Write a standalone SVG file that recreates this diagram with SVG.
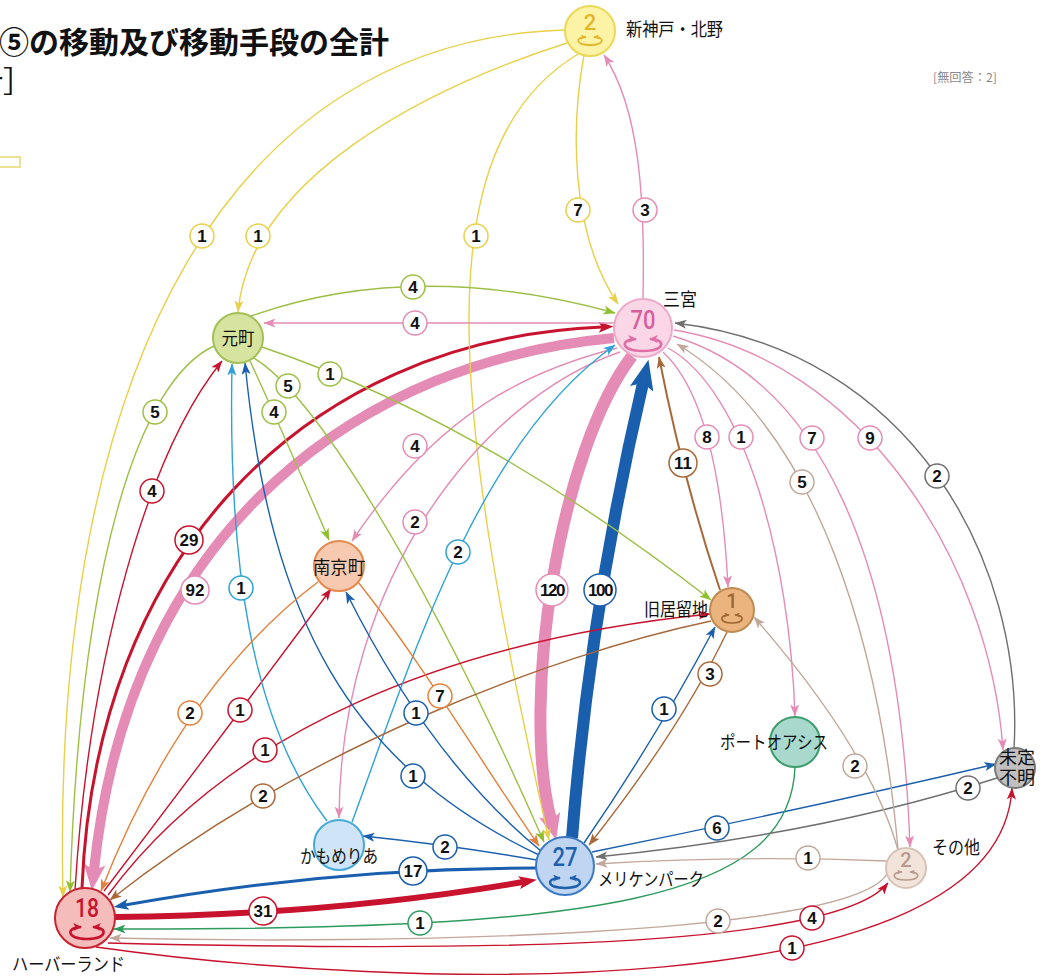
<svg xmlns="http://www.w3.org/2000/svg" width="1044" height="976" viewBox="0 0 1044 976">
<style>
.e{fill:none;stroke-width:1.4}
.lb circle{fill:#fff;stroke-width:1.5}
.lb text{font-family:"Liberation Sans",Arial,sans-serif;font-weight:700;font-size:17px;text-anchor:middle;dominant-baseline:central;fill:#111}
.nm{font-family:"Noto Sans CJK JP",sans-serif;font-size:18px;fill:#111}
.num{font-family:Roboto,"Liberation Sans",Arial,sans-serif;font-weight:500;text-anchor:middle;dominant-baseline:central}
.ic{fill:none}
.cY{stroke:#e8d048}.cP{stroke:#e58cb6}.cL{stroke:#9dbf45}.cO{stroke:#e4803a}.cBr{stroke:#a8693a}.cG{stroke:#2e9b5e}.cGy{stroke:#6f6f6f}.cLb{stroke:#2ea2d6}.cB{stroke:#1a5fae}.cT{stroke:#c2a89c}.cR{stroke:#c8132e}
</style>
<defs>
<marker id="mY" viewBox="0 0 12 9" refX="11.5" refY="4.5" markerWidth="12" markerHeight="9" markerUnits="userSpaceOnUse" orient="auto"><path d="M0,0L12,4.5L0,9L3,4.5z" fill="#e8d048"/></marker>
<marker id="mP" viewBox="0 0 12 9" refX="11.5" refY="4.5" markerWidth="12" markerHeight="9" markerUnits="userSpaceOnUse" orient="auto"><path d="M0,0L12,4.5L0,9L3,4.5z" fill="#e58cb6"/></marker>
<marker id="mL" viewBox="0 0 12 9" refX="11.5" refY="4.5" markerWidth="12" markerHeight="9" markerUnits="userSpaceOnUse" orient="auto"><path d="M0,0L12,4.5L0,9L3,4.5z" fill="#8fbf2f"/></marker>
<marker id="mO" viewBox="0 0 12 9" refX="11.5" refY="4.5" markerWidth="12" markerHeight="9" markerUnits="userSpaceOnUse" orient="auto"><path d="M0,0L12,4.5L0,9L3,4.5z" fill="#e4803a"/></marker>
<marker id="mBr" viewBox="0 0 12 9" refX="11.5" refY="4.5" markerWidth="12" markerHeight="9" markerUnits="userSpaceOnUse" orient="auto"><path d="M0,0L12,4.5L0,9L3,4.5z" fill="#a8693a"/></marker>
<marker id="mG" viewBox="0 0 12 9" refX="11.5" refY="4.5" markerWidth="12" markerHeight="9" markerUnits="userSpaceOnUse" orient="auto"><path d="M0,0L12,4.5L0,9L3,4.5z" fill="#2e9b5e"/></marker>
<marker id="mGy" viewBox="0 0 12 9" refX="11.5" refY="4.5" markerWidth="12" markerHeight="9" markerUnits="userSpaceOnUse" orient="auto"><path d="M0,0L12,4.5L0,9L3,4.5z" fill="#6f6f6f"/></marker>
<marker id="mLb" viewBox="0 0 12 9" refX="11.5" refY="4.5" markerWidth="12" markerHeight="9" markerUnits="userSpaceOnUse" orient="auto"><path d="M0,0L12,4.5L0,9L3,4.5z" fill="#2ea2d6"/></marker>
<marker id="mB" viewBox="0 0 12 9" refX="11.5" refY="4.5" markerWidth="12" markerHeight="9" markerUnits="userSpaceOnUse" orient="auto"><path d="M0,0L12,4.5L0,9L3,4.5z" fill="#1a5fae"/></marker>
<marker id="mT" viewBox="0 0 12 9" refX="11.5" refY="4.5" markerWidth="12" markerHeight="9" markerUnits="userSpaceOnUse" orient="auto"><path d="M0,0L12,4.5L0,9L3,4.5z" fill="#c2a89c"/></marker>
<marker id="mR" viewBox="0 0 12 9" refX="11.5" refY="4.5" markerWidth="12" markerHeight="9" markerUnits="userSpaceOnUse" orient="auto"><path d="M0,0L12,4.5L0,9L3,4.5z" fill="#c8132e"/></marker>
<marker id="mPB" viewBox="0 0 24 20" refX="5" refY="10" markerWidth="26" markerHeight="22" markerUnits="userSpaceOnUse" orient="auto"><path d="M0,0L24,10L0,20L5,10z" fill="#e58cb6"/></marker>
<marker id="mBB" viewBox="0 0 30 24" refX="6" refY="12" markerWidth="30" markerHeight="24" markerUnits="userSpaceOnUse" orient="auto"><path d="M0,0L30,12L0,24L6,12z" fill="#1a5fae"/></marker>
<marker id="mRM" viewBox="0 0 18 13" refX="4" refY="6.5" markerWidth="18" markerHeight="13" markerUnits="userSpaceOnUse" orient="auto"><path d="M0,0L18,6.5L0,13L4,6.5z" fill="#c8132e"/></marker>
<marker id="mBM" viewBox="0 0 15 11" refX="3.5" refY="5.5" markerWidth="15" markerHeight="11" markerUnits="userSpaceOnUse" orient="auto"><path d="M0,0L15,5.5L0,11L3.5,5.5z" fill="#1a5fae"/></marker>
<marker id="mRM2" viewBox="0 0 15 11" refX="3.5" refY="5.5" markerWidth="15" markerHeight="11" markerUnits="userSpaceOnUse" orient="auto"><path d="M0,0L15,5.5L0,11L3.5,5.5z" fill="#c8132e"/></marker>
<marker id="lP" viewBox="0 0 8 7" refX="7" refY="3.5" markerWidth="9" markerHeight="8" markerUnits="userSpaceOnUse" orient="auto-start-reverse"><path d="M0,0L8,3.5L0,7L2,3.5z" fill="#e06ea6"/></marker>
<marker id="lR" viewBox="0 0 8 7" refX="7" refY="3.5" markerWidth="9" markerHeight="8" markerUnits="userSpaceOnUse" orient="auto-start-reverse"><path d="M0,0L8,3.5L0,7L2,3.5z" fill="#c8132e"/></marker>
<marker id="lB" viewBox="0 0 8 7" refX="7" refY="3.5" markerWidth="8" markerHeight="7" markerUnits="userSpaceOnUse" orient="auto-start-reverse"><path d="M0,0L8,3.5L0,7L2,3.5z" fill="#1f5fae"/></marker>
<marker id="lY" viewBox="0 0 8 7" refX="7" refY="3.5" markerWidth="6" markerHeight="5" markerUnits="userSpaceOnUse" orient="auto-start-reverse"><path d="M0,0L8,3.5L0,7L2,3.5z" fill="#e3b52a"/></marker>
<marker id="lBr" viewBox="0 0 8 7" refX="7" refY="3.5" markerWidth="6" markerHeight="5" markerUnits="userSpaceOnUse" orient="auto-start-reverse"><path d="M0,0L8,3.5L0,7L2,3.5z" fill="#9c6535"/></marker>
<marker id="lT" viewBox="0 0 8 7" refX="7" refY="3.5" markerWidth="6" markerHeight="5" markerUnits="userSpaceOnUse" orient="auto-start-reverse"><path d="M0,0L8,3.5L0,7L2,3.5z" fill="#b89a8c"/></marker>
</defs>
<rect width="1044" height="976" fill="#fff"/>
<g id="title">
<text x="-1" y="53" font-family="Noto Sans CJK JP,sans-serif" font-size="30" font-weight="700" fill="#111">⑤の移動及び移動手段の全計</text>
<text x="-27" y="92" font-family="Noto Sans CJK JP,sans-serif" font-size="30" fill="#111">計］</text>
<rect x="-2" y="157" width="22" height="10" fill="#fff" stroke="#e8d870" stroke-width="1.5"/>
<text x="933" y="82" font-family="Noto Sans CJK JP,sans-serif" font-size="12" fill="#8a8a8a" textLength="64" lengthAdjust="spacingAndGlyphs">[無回答：2]</text>
</g>
<g id="connectors">
<path class="e cP" style="stroke-width:10" d="M614,338 C370,360 130,520 94,870" marker-end="url(#mPB)"/>
<path class="e cP" style="stroke-width:12" d="M632,356 C560,450 520,700 551,820" marker-end="url(#mPB)"/>
<path class="e cB" style="stroke-width:12" d="M572,838 Q590,610 643,383" marker-end="url(#mBB)"/>
<path class="e cR" style="stroke-width:6" d="M115,917 Q330,915 523,882" marker-end="url(#mRM)"/>
<path class="e cB" style="stroke-width:3" d="M536,868 Q330,868 125,905" marker-end="url(#mBM)"/>
<path class="e cR" style="stroke-width:3" d="M82,888 C95,560 300,340 602,327" marker-end="url(#mRM2)"/>
<path class="e cBr" style="stroke-width:2" d="M720,590 Q683,480 659,357" marker-end="url(#mBr)"/>
<path class="e cY" d="M564,30 C240,40 50,350 63,897" marker-end="url(#mY)"/>
<path class="e cY" d="M567,43 C420,90 250,180 238,312" marker-end="url(#mY)"/>
<path class="e cY" d="M578,54 C420,150 455,420 549,840" marker-end="url(#mY)"/>
<path class="e cY" d="M584,55 C572,120 568,230 618,304" marker-end="url(#mY)"/>
<path class="e cP" d="M643,298 C645,200 640,110 604,55" marker-end="url(#mP)"/>
<path class="e cP" d="M614,323 L264,323" marker-end="url(#mP)"/>
<path class="e cP" d="M617,348 C530,370 440,410 352,541" marker-end="url(#mP)"/>
<path class="e cP" d="M620,352 C480,400 340,580 339,818" marker-end="url(#mP)"/>
<path class="e cP" d="M663,352 Q719,404 728,587" marker-end="url(#mP)"/>
<path class="e cP" d="M668,348 C745,390 790,560 795,716" marker-end="url(#mP)"/>
<path class="e cP" d="M673,336 C820,380 900,560 910,847" marker-end="url(#mP)"/>
<path class="e cP" d="M674,330 C860,360 990,560 1003,750" marker-end="url(#mP)"/>
<path class="e cL" d="M251,316 Q415,258 615,313" marker-end="url(#mL)"/>
<path class="e cL" d="M214,346 C140,380 80,560 70,892" marker-end="url(#mL)"/>
<path class="e cL" d="M250,361 Q282,430 329,540" marker-end="url(#mL)"/>
<path class="e cL" d="M252,357 C310,390 420,560 544,842" marker-end="url(#mL)"/>
<path class="e cL" d="M262,347 Q480,420 711,600" marker-end="url(#mL)"/>
<path class="e cR" d="M75,890 C90,650 150,450 222,361" marker-end="url(#mR)"/>
<path class="e cR" d="M104,891 Q215,745 331,589" marker-end="url(#mR)"/>
<path class="e cR" d="M108,895 C230,730 450,640 710,614" marker-end="url(#mR)"/>
<path class="e cR" d="M108,943 C400,950 830,955 888,883" marker-end="url(#mR)"/>
<path class="e cR" d="M96,947 C400,990 1000,1010 1012,788" marker-end="url(#mR)"/>
<path class="e cLb" d="M327,821 C250,720 228,560 232,364" marker-end="url(#mLb)"/>
<path class="e cLb" d="M352,822 C415,650 480,440 615,345" marker-end="url(#mLb)"/>
<path class="e cB" d="M539,855 C350,765 270,620 245,363" marker-end="url(#mB)"/>
<path class="e cB" d="M541,851 Q430,760 346,592" marker-end="url(#mB)"/>
<path class="e cB" d="M537,860 Q450,845 363,836" marker-end="url(#mB)"/>
<path class="e cB" d="M584,843 Q655,740 715,627" marker-end="url(#mB)"/>
<path class="e cB" d="M592,852 Q800,810 996,764" marker-end="url(#mB)"/>
<path class="e cO" d="M318,582 C240,640 160,740 101,891" marker-end="url(#mO)"/>
<path class="e cO" d="M358,582 C420,660 480,760 539,846" marker-end="url(#mO)"/>
<path class="e cBr" d="M711,621 C550,655 300,750 110,900" marker-end="url(#mBr)"/>
<path class="e cBr" d="M727,632 Q680,730 589,845" marker-end="url(#mBr)"/>
<path class="e cG" d="M795,767 C790,900 600,930 114,929" marker-end="url(#mG)"/>
<path class="e cGy" d="M1014,749 C1025,560 910,350 675,323" marker-end="url(#mGy)"/>
<path class="e cGy" d="M997,778 Q820,835 596,857" marker-end="url(#mGy)"/>
<path class="e cT" d="M898,849 C880,650 820,430 677,344" marker-end="url(#mT)"/>
<path class="e cT" d="M887,861 Q740,855 596,864" marker-end="url(#mT)"/>
<path class="e cT" d="M898,850 Q870,750 754,617" marker-end="url(#mT)"/>
<path class="e cT" d="M887,874 C850,935 400,945 110,938" marker-end="url(#mT)"/>
</g>
<g id="edge-labels" class="lb">
<circle class="cY" cx="202" cy="236" r="12"/><text x="202" y="236">1</text>
<circle class="cY" cx="258" cy="236" r="12"/><text x="258" y="236">1</text>
<circle class="cY" cx="476" cy="236" r="12"/><text x="476" y="236">1</text>
<circle class="cY" cx="578" cy="210" r="12"/><text x="578" y="210">7</text>
<circle class="cP" cx="645" cy="210" r="12"/><text x="645" y="210">3</text>
<circle class="cP" cx="415" cy="323" r="12"/><text x="415" y="323">4</text>
<circle class="cP" cx="195" cy="590" r="14"/><text x="195" y="590">92</text>
<circle class="cP" cx="415" cy="446" r="12"/><text x="415" y="446">4</text>
<circle class="cP" cx="415" cy="522" r="12"/><text x="415" y="522">2</text>
<circle class="cP" cx="552" cy="590" r="16"/><text x="552" y="590" letter-spacing="-1.5">120</text>
<circle class="cP" cx="707" cy="437" r="12"/><text x="707" y="437">8</text>
<circle class="cP" cx="741" cy="437" r="12"/><text x="741" y="437">1</text>
<circle class="cP" cx="812" cy="438" r="12"/><text x="812" y="438">7</text>
<circle class="cP" cx="870" cy="438" r="12"/><text x="870" y="438">9</text>
<circle class="cL" cx="413" cy="287" r="12"/><text x="413" y="287">4</text>
<circle class="cL" cx="155" cy="412" r="12"/><text x="155" y="412">5</text>
<circle class="cL" cx="274" cy="412" r="12"/><text x="274" y="412">4</text>
<circle class="cL" cx="288" cy="386" r="12"/><text x="288" y="386">5</text>
<circle class="cL" cx="330" cy="374" r="12"/><text x="330" y="374">1</text>
<circle class="cR" cx="189" cy="540" r="14"/><text x="189" y="540">29</text>
<circle class="cR" cx="152" cy="491" r="12"/><text x="152" y="491">4</text>
<circle class="cR" cx="240" cy="710" r="12"/><text x="240" y="710">1</text>
<circle class="cR" cx="265" cy="750" r="12"/><text x="265" y="750">1</text>
<circle class="cR" cx="263" cy="911" r="14"/><text x="263" y="911">31</text>
<circle class="cR" cx="812" cy="918" r="12"/><text x="812" y="918">4</text>
<circle class="cR" cx="792" cy="948" r="12"/><text x="792" y="948">1</text>
<circle class="cLb" cx="241" cy="588" r="12"/><text x="241" y="588">1</text>
<circle class="cLb" cx="458" cy="552" r="12"/><text x="458" y="552">2</text>
<circle class="cB" cx="600" cy="590" r="16"/><text x="600" y="590" letter-spacing="-1.5">100</text>
<circle class="cB" cx="416" cy="713" r="12"/><text x="416" y="713">1</text>
<circle class="cB" cx="413" cy="776" r="12"/><text x="413" y="776">1</text>
<circle class="cB" cx="445" cy="847" r="12"/><text x="445" y="847">2</text>
<circle class="cB" cx="413" cy="871" r="14"/><text x="413" y="871">17</text>
<circle class="cB" cx="664" cy="709" r="12"/><text x="664" y="709">1</text>
<circle class="cB" cx="717" cy="828" r="12"/><text x="717" y="828">6</text>
<circle class="cBr" cx="683" cy="463" r="14"/><text x="683" y="463">11</text>
<circle class="cBr" cx="263" cy="796" r="12"/><text x="263" y="796">2</text>
<circle class="cBr" cx="710" cy="674" r="12"/><text x="710" y="674">3</text>
<circle class="cO" cx="190" cy="713" r="12"/><text x="190" y="713">2</text>
<circle class="cO" cx="440" cy="696" r="12"/><text x="440" y="696">7</text>
<circle class="cG" cx="420" cy="923" r="12"/><text x="420" y="923">1</text>
<circle class="cGy" cx="937" cy="476" r="12"/><text x="937" y="476">2</text>
<circle class="cGy" cx="968" cy="788" r="12"/><text x="968" y="788">2</text>
<circle class="cT" cx="802" cy="482" r="12"/><text x="802" y="482">5</text>
<circle class="cT" cx="855" cy="766" r="12"/><text x="855" y="766">2</text>
<circle class="cT" cx="808" cy="858" r="12"/><text x="808" y="858">1</text>
<circle class="cT" cx="718" cy="921" r="12"/><text x="718" y="921">2</text>
</g>
<g id="n-shinkobe">
<circle cx="590" cy="31" r="25" fill="#fdf3a6" stroke="#ecd856" stroke-width="2"/>
<text class="num" x="590" y="22" font-size="22" fill="#e3b52a">2</text>
<path class="ic" d="M586,37 C575,37 575,45 590,45 C605,45 605,37 594,37" stroke="#e3b52a" stroke-width="1.8" marker-start="url(#lY)" marker-end="url(#lY)"/>
<text class="nm" x="626" y="36" font-size="19" textLength="97" lengthAdjust="spacingAndGlyphs">新神戸・北野</text>
</g>
<g id="n-sannomiya">
<circle cx="643" cy="328" r="29" fill="#fad6e6" stroke="#ecaac8" stroke-width="2"/>
<text class="num" x="643" y="320" font-size="26" fill="#d85f9d" textLength="25" lengthAdjust="spacingAndGlyphs">70</text>
<path class="ic" d="M636,339 C620,339 620,351 643,351 C666,351 666,339 650,339" stroke="#e06ea6" stroke-width="2.6" marker-start="url(#lP)" marker-end="url(#lP)"/>
<text class="nm" x="663" y="306" font-size="19" textLength="34" lengthAdjust="spacingAndGlyphs">三宮</text>
</g>
<g id="n-motomachi">
<circle cx="238" cy="338" r="25" fill="#d6e4a0" stroke="#a3bf55" stroke-width="2"/>
<text class="nm" x="238" y="345" font-size="17" text-anchor="middle" textLength="33" lengthAdjust="spacingAndGlyphs">元町</text>
</g>
<g id="n-nankinmachi">
<circle cx="339" cy="566" r="25" fill="#f7c9b1" stroke="#e48a4c" stroke-width="2"/>
<text class="nm" x="339" y="574" font-size="18" text-anchor="middle" textLength="52" lengthAdjust="spacingAndGlyphs">南京町</text>
</g>
<g id="n-kyukyoryuchi">
<circle cx="732" cy="610" r="22" fill="#ebb47f" stroke="#c08a52" stroke-width="2"/>
<text class="num" x="732" y="601" font-size="20" fill="#9c6535">1</text>
<path class="ic" d="M729,615 C719,615 719,623 732,623 C745,623 745,615 735,615" stroke="#9c6535" stroke-width="1.6" marker-start="url(#lBr)" marker-end="url(#lBr)"/>
<text class="nm" x="644" y="616" font-size="19" textLength="64" lengthAdjust="spacingAndGlyphs">旧居留地</text>
</g>
<g id="n-portoasis">
<circle cx="795" cy="742" r="25" fill="#a9d9cd" stroke="#3d9d6d" stroke-width="2"/>
<text class="nm" x="720" y="749" textLength="108" lengthAdjust="spacingAndGlyphs">ポートオアシス</text>
</g>
<g id="n-mitei">
<circle cx="1015" cy="768" r="20" fill="#c0c0c0" stroke="#7a7a7a" stroke-width="2"/>
<text class="nm" font-size="12.5" text-anchor="middle"><tspan x="1017" y="764">未定</tspan><tspan x="1017" y="784">不明</tspan></text>
</g>
<g id="n-kamomeria">
<circle cx="339" cy="845" r="25" fill="#cfe5f7" stroke="#45aad9" stroke-width="2"/>
<text class="nm" x="300" y="863" textLength="78" lengthAdjust="spacingAndGlyphs">かもめりあ</text>
</g>
<g id="n-meriken">
<circle cx="565" cy="866" r="29" fill="#bfd5f1" stroke="#3b79c5" stroke-width="2"/>
<text class="num" x="565" y="857" font-size="26" fill="#1f5fae" textLength="25" lengthAdjust="spacingAndGlyphs">27</text>
<path class="ic" d="M560,878 C546,878 546,888 565,888 C584,888 584,878 570,878" stroke="#1f5fae" stroke-width="2.4" marker-start="url(#lB)" marker-end="url(#lB)"/>
<text class="nm" x="598" y="886" textLength="106" lengthAdjust="spacingAndGlyphs">メリケンパーク</text>
</g>
<g id="n-sonota">
<circle cx="906" cy="868" r="20" fill="#f2e3db" stroke="#d7c2b6" stroke-width="2"/>
<text class="num" x="906" y="860" font-size="20" fill="#b89a8c">2</text>
<path class="ic" d="M902,872 C891,872 891,880 906,880 C921,880 921,872 910,872" stroke="#b89a8c" stroke-width="1.6" marker-start="url(#lT)" marker-end="url(#lT)"/>
<text class="nm" x="932" y="854" textLength="48" lengthAdjust="spacingAndGlyphs">その他</text>
</g>
<g id="n-harborland">
<circle cx="85" cy="918" r="30" fill="#f5bcbc" stroke="#c9222f" stroke-width="2"/>
<text class="num" x="87" y="908" font-size="25" fill="#c8132e" textLength="24" lengthAdjust="spacingAndGlyphs">18</text>
<path class="ic" d="M81,927 C66,927 66,939 87,939 C108,939 108,927 93,927" stroke="#c8132e" stroke-width="2.6" marker-start="url(#lR)" marker-end="url(#lR)"/>
<text class="nm" x="12" y="971" font-size="19" textLength="113" lengthAdjust="spacingAndGlyphs">ハーバーランド</text>
</g>
</svg>
